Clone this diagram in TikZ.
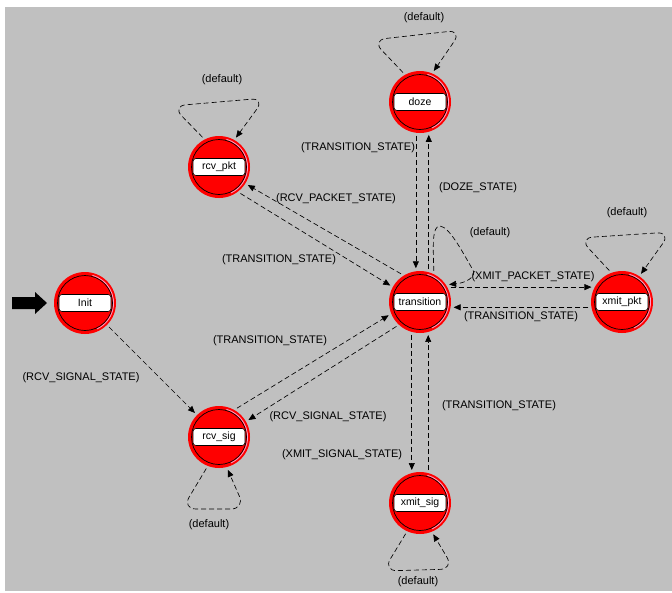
\documentclass[tikz,border=0pt]{standalone}
\usepackage{fontspec}
\setmainfont{Liberation Sans}
\usetikzlibrary{arrows.meta}
\definecolor{bg}{HTML}{C0C0C0}
\definecolor{statered}{HTML}{FF0000}
\definecolor{hilite}{HTML}{FFA0C8}
\newcommand\mystate[3]{%
  \node[state] (#1) at (#2) {};
  \draw[black, line width=0.7pt] (#1.center) circle[radius=27.5pt];
  \begin{scope}[shift={(#1.center)}, x=1pt, y=1pt]
    \draw[hilite, line width=0.8pt] (75:28.6) arc[start angle=75, end angle=-65, radius=28.6];
  \end{scope}
  \node[namebox] (#1-lbl) at (#1.center) {#3};
}
\begin{document}
\begin{tikzpicture}[x=1pt, y=-1pt,
  state/.style={circle, fill=statered, minimum size=62pt, inner sep=0pt, outer sep=3pt},
  namebox/.style={draw=black, fill=white, rounded corners=3pt, line width=0.6pt,
    minimum width=52pt, minimum height=17pt, inner sep=0pt,
    font=\fontsize{10.5}{12}\selectfont},
  trans/.style={draw=black, line width=0.65pt, dash pattern=on 5pt off 3pt,
    -{Triangle[length=7pt,width=6pt]}},
  loopline/.style={trans, rounded corners=14pt},
  elabel/.style={font=\fontsize{11}{12}\selectfont, inner sep=0pt},
]
\useasboundingbox (0,0) rectangle (672,592);
\fill[white] (0,0) rectangle (672,592);
\fill[bg] (5,7) rectangle (672,591);

% states
\mystate{doze}{420,102}{doze}
\mystate{rcvpkt}{219,167}{rcv\_pkt}
\mystate{transition}{420,302}{transition}
\mystate{xmitpkt}{622,302}{xmit\_pkt}
\mystate{init}{85,303}{Init}
\mystate{rcvsig}{219,437}{rcv\_sig}
\mystate{xmitsig}{420,503}{xmit\_sig}

% initial marker
\fill[black] (12,297) -- (35,297) -- (35,292) -- (47,303) -- (35,314) -- (35,309) -- (12,309) -- cycle;

% transitions
\draw[trans] (doze.263) -- (transition.97);
\draw[trans] (transition.75) -- (doze.285);
\draw[trans] (transition.256) -- (xmitsig.104);
\draw[trans] (xmitsig.76) -- (transition.284);
\draw[trans] (transition.26) -- (xmitpkt.154);
\draw[trans] (xmitpkt.189) -- (transition.351);
\draw[trans] (rcvpkt.-51) -- (transition.151);
\draw[trans] (transition.124) -- (rcvpkt.-32);
\draw[trans] (rcvsig.58) -- (transition.203);
\draw[trans] (transition.226) -- (rcvsig.30);
\draw[trans] (init.-45) -- (rcvsig.135);

% self loops
\draw[loopline] (doze.120) -- (372,40) -- (462,30) -- (doze.66);
\draw[loopline] (rcvpkt.119) -- (172,106) -- (265,98) -- (rcvpkt.60);
\draw[loopline] (xmitpkt.112) -- (579,238) -- (671,232) -- (xmitpkt.56);
\draw[loopline] (rcvsig.248) -- (182,509) -- (245,509) -- (rcvsig.-75);
\draw[loopline] (xmitsig.245) -- (383,571) -- (454,569) -- (xmitsig.-67);
\draw[trans] (transition.66) .. controls (433,245) and (432,226) .. (440,226)
  .. controls (450,227) and (464,255) .. (473,270)
  .. controls (477,277) and (465,283) .. (transition.31);

% labels
\node[elabel] (l1) at (424,18) {(default)};
\node[elabel] (l2) at (222,80) {(default)};
\node[elabel] (l3) at (490,233) {(default)};
\node[elabel] (l4) at (627,213) {(default)};
\node[elabel] (l5) at (209,525) {(default)};
\node[elabel] (l6) at (418,582) {(default)};
\node[elabel] (l7) at (358,148) {(TRANSITION\_STATE)};
\node[elabel] (l8) at (478,188) {(DOZE\_STATE)};
\node[elabel] (l9) at (336,199) {(RCV\_PACKET\_STATE)};
\node[elabel] (l10) at (279,260) {(TRANSITION\_STATE)};
\node[elabel] (l11) at (533,277) {(XMIT\_PACKET\_STATE)};
\node[elabel] (l12) at (521,317) {(TRANSITION\_STATE)};
\node[elabel] (l13) at (81,378) {(RCV\_SIGNAL\_STATE)};
\node[elabel] (l14) at (270,341) {(TRANSITION\_STATE)};
\node[elabel] (l15) at (328,417) {(RCV\_SIGNAL\_STATE)};
\node[elabel] (l16) at (342,455) {(XMIT\_SIGNAL\_STATE)};
\node[elabel] (l17) at (499,406) {(TRANSITION\_STATE)};
\end{tikzpicture}
\end{document}
